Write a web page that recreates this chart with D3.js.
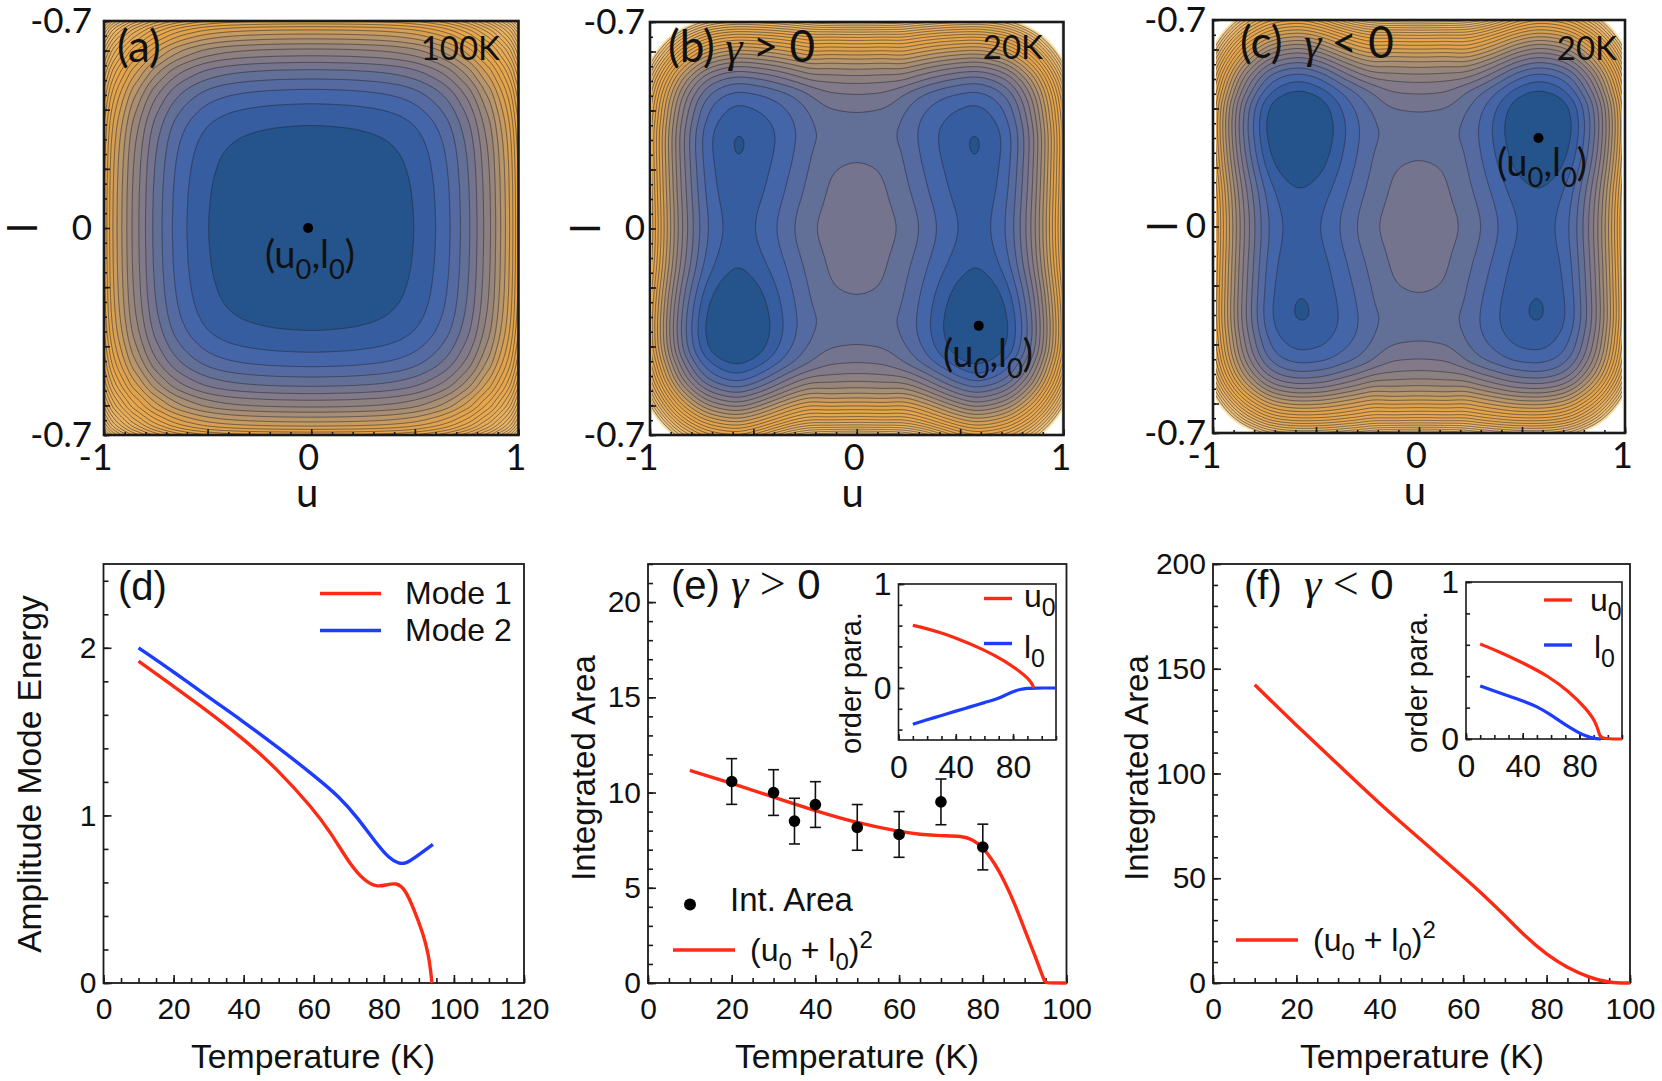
<!DOCTYPE html>
<html lang="en">
<head>
<meta charset="UTF-8">
<title>Amplitude modes</title>
<style>
  html, body { margin: 0; background: #fff; }
  svg { display: block; }
  .frame { fill: none; stroke: #1a1a1a; }
  .axis path { display: none; }
  .axis line { stroke: #1a1a1a; stroke-width: 1.6; }
  .sans text, text.sans { font-family: "Liberation Sans", sans-serif; fill: #111; }
  .lato text, text.lato { font-family: Lato, sans-serif; fill: #111; }
</style>
</head>
<body>
<div id="chart"></div>
<script src="https://cdnjs.cloudflare.com/ajax/libs/d3/7.8.5/d3.min.js"></script>
<script>
// ---- contour maps: levels read by counting contour lines along cuts through each map
// (a) same level profile along u and along l/0.7
const aCut = [0, .15, .3, .395, .495, .6, .67, .72, .765, .8, .832, .865, .89, .914, .937, .957, .973, .986, 1];
const aLevel = [0, .06, .25, .5, 1, 2, 3, 4, 5, 6, 7, 8, 9, 10, 11, 12, 13, 14, 15];

// (b) cut along l = 0, then cuts along u = 0, u = 0.25 and through the wells
const bRowU = [0, .1, .2, .3, .386, .49, .575, .65, .72, .763, .79, .82, .845, .865, .884, .9, .92, .932, .947, .96, .976, .99, 1];
const bRowLevel = [5.35, 5.25, 5, 4, 3, 2, 1.55, 2, 3, 4, 5, 6, 7, 8, 9, 10, 11, 12, 13, 14, 15, 16, 17];
const bMidL = [0, .12, .23, .31, .39, .456, .493, .52, .54, .56, .578, .588, .6, .615, .628, .638, .649, .659, .669, .676, .682, .689, .695, .7];
const bMidLevel = [0, -.09, -.35, -.9, -.4, .65, 1.65, 2.65, 3.65, 4.65, 5.65, 6.65, 7.65, 8.65, 9.65, 10.65, 11.65, 12.65, 13.65, 14.65, 15.65, 16.65, 17.65, 18.65];
const shoulderL = [0, .143, .25, .32, .38, .413, .467, .487, .51, .53, .547, .563, .578, .59, .603, .618, .63, .642, .652, .662, .672, .68, .687, .694, .7];
const shoulderLevel = [0, -.55, -.95, -1.1, -.9, -.55, .45, 1.45, 2.45, 3.45, 4.45, 5.45, 6.45, 7.45, 8.45, 9.45, 10.45, 11.45, 12.45, 13.45, 14.45, 15.45, 16.45, 17.45, 18.45];
const bWellL = [-.7, -.69, -.68, -.668, -.657, -.645, -.632, -.62, -.605, -.59, -.575, -.557, -.54, -.52, -.495, -.461, -.41, -.34, -.27, -.2, -.128, -.05, 0, .05, .1, .2, .29, .33, .38, .422, .464, .494, .515, .535, .55, .565, .58, .592, .605, .617, .628, .64, .65, .66, .669, .677, .685, .692, .7];
const bWellLevel = [14.45, 13.45, 12.45, 11.45, 10.45, 9.45, 8.45, 7.45, 6.45, 5.45, 4.45, 3.45, 2.45, 1.45, .45, -.55, -1.9, -2.3, -2, -1.35, -.55, -.1, 0, -.05, -.2, -.47, -.66, -.55, -.05, .45, 1.45, 2.45, 3.45, 4.45, 5.45, 6.45, 7.45, 8.45, 9.45, 10.45, 11.45, 12.45, 13.45, 14.45, 15.45, 16.45, 17.45, 18.45, 19.45];

// (c) same cuts, deep wells on top
const cRowU = [0, .1, .2, .3, .385, .475, .578, .665, .73, .77, .795, .825, .85, .87, .888, .905, .922, .936, .95, .963, .978, .99, 1];
const cRowLevel = [5.35, 5.25, 5, 4, 3, 2, 1.55, 2, 3, 4, 5, 6, 7, 8, 9, 10, 11, 12, 13, 14, 15, 16, 17];
const cMidL = [0, .12, .23, .31, .385, .45, .49, .518, .54, .56, .578, .588, .6, .615, .628, .638, .649, .659, .669, .676, .682, .689, .695, .7];
const cMidLevel = [0, -.09, -.35, -.9, -.4, .65, 1.65, 2.65, 3.65, 4.65, 5.65, 6.65, 7.65, 8.65, 9.65, 10.65, 11.65, 12.65, 13.65, 14.65, 15.65, 16.65, 17.65, 18.65];
const cWellL = [-.7, -.692, -.685, -.677, -.669, -.66, -.65, -.64, -.628, -.617, -.605, -.592, -.58, -.565, -.55, -.535, -.515, -.494, -.464, -.422, -.38, -.33, -.29, -.2, -.1, -.05, 0, .05, .127, .2, .27, .34, .41, .46, .495, .52, .54, .557, .575, .59, .605, .62, .632, .645, .657, .668, .68, .69, .7];
const cWellLevel = [19.45, 18.45, 17.45, 16.45, 15.45, 14.45, 13.45, 12.45, 11.45, 10.45, 9.45, 8.45, 7.45, 6.45, 5.45, 4.45, 3.45, 2.45, 1.45, .45, -.05, -.55, -.66, -.47, -.2, -.05, 0, -.1, -.55, -1.35, -2, -2.3, -1.9, -.55, .45, 1.45, 2.45, 3.45, 4.45, 5.45, 6.45, 7.45, 8.45, 9.45, 10.45, 11.45, 12.45, 13.45, 14.45];

// colours of the bands between contours
const bandStops = [0, 1, 2, 3, 4, 5, 6, 8, 10, 12, 14];
const bandColors = ['#24548b', '#365d9f', '#4565a9', '#566aa2', '#627098', '#75748e', '#827a88', '#98867a', '#b8966b', '#d8a052', '#e6a54a'];

// minima marked (u, l)
const minimaU = [-.015, .59, .58];
const minimaL = [0, -.33, .3];

// ---- line plots
// (d)
const dT1 = [10, 20, 29.9, 39.8, 49.7, 59.8, 65, 70, 74.6, 78, 80.5, 83.5, 86, 88.6, 91.2, 92.7, 93.4, 93.7];
const dMode1 = [1.92, 1.77, 1.62, 1.459, 1.274, 1.04, .893, .718, .605, .574, .584, .599, .564, .44, .296, .173, .07, 0];
const dT2 = [10, 20, 29.9, 39.8, 49.7, 59.8, 67.4, 72.5, 77.6, 81.7, 84.3, 86.3, 88.9, 94];
const dMode2 = [2, 1.857, 1.706, 1.562, 1.407, 1.243, 1.11, .986, .84, .739, .712, .712, .749, .827];

// (e)
const eT = [10, 20, 30, 40, 50, 60, 65, 70, 75, 77.5, 80, 83, 85, 87.5, 90, 92.5, 94.8, 95, 100];
const eArea = [11.16, 10.49, 9.76, 9.04, 8.4, 7.95, 7.8, 7.73, 7.72, 7.54, 7.14, 6.23, 5.42, 4.24, 2.79, 1.43, .04, 0, 0];
const ePointT = [20, 30, 35, 40, 50, 60, 70, 80];
const ePointArea = [10.58, 10, 8.5, 9.37, 8.17, 7.8, 9.51, 7.14];
const ePointErr = [1.2, 1.2, 1.2, 1.2, 1.2, 1.2, 1.2, 1.2];
const eInsetT1 = [10, 20, 30, 40, 59.4, 73.8, 85.7, 90.5, 93.4, 94.4];
const eInsetU = [.603, .57, .53, .482, .371, .265, .149, .093, .04, 0];
const eInsetT2 = [10, 20, 30, 40, 50, 60, 70, 75, 80, 85, 90, 95, 110];
const eInsetL = [-.348, -.305, -.265, -.222, -.182, -.14, -.1, -.066, -.033, -.013, -.003, 0, 0];

// (f)
const fT = [10, 20, 30, 40, 50, 60, 65, 70, 75, 80, 85, 90, 95, 100];
const fArea = [142.4, 122.9, 104.3, 85.4, 68.1, 50.8, 41.8, 32.2, 22, 13.5, 7.2, 2.8, 0, 0];
const fInsetT1 = [10, 23.7, 40.8, 58, 72.6, 84.8, 91, 93.9, 94.6, 110];
const fInsetU = [.605, .555, .482, .401, .303, .193, .116, .039, 0, 0];
const fInsetT2 = [10, 20, 30, 40, 50, 60, 70, 80, 85, 90, 95];
const fInsetL = [.338, .305, .274, .243, .208, .153, .09, .037, .018, .004, 0];

const RED = '#ff2a14';
const BLUE = '#1c3cff';
const W = 1662, H = 1081;

const svg = d3.select('#chart').append('svg').attr('width', W).attr('height', H);
const defs = svg.append('defs');

// monotone cubic through the cut readings, straight line past the ends
function cutProfile(xs, ys) {
  const n = xs.length;
  const d = d3.range(n - 1).map(i => (ys[i + 1] - ys[i]) / (xs[i + 1] - xs[i]));
  const m = d3.range(n).map(i => {
    if (i === 0) return xs[0] === 0 ? 0 : d[0]; // cuts from the centre are flat there
    if (i === n - 1) return d[n - 2];
    if (d[i - 1] * d[i] <= 0) return 0;
    const h0 = xs[i] - xs[i - 1], h1 = xs[i + 1] - xs[i];
    return (h0 + h1) * 3 / ((2 * h1 + h0) / d[i - 1] + (h1 + 2 * h0) / d[i]);
  });
  return x => {
    if (x <= xs[0]) return ys[0] + m[0] * (x - xs[0]);
    if (x >= xs[n - 1]) return ys[n - 1] + m[n - 1] * (x - xs[n - 1]);
    const i = Math.max(0, d3.bisectRight(xs, x) - 1);
    const h = xs[i + 1] - xs[i], t = (x - xs[i]) / h;
    const t2 = t * t, t3 = t2 * t;
    return (2 * t3 - 3 * t2 + 1) * ys[i] + (t3 - 2 * t2 + t) * h * m[i] +
      (-2 * t3 + 3 * t2) * ys[i + 1] + (t3 - t2) * h * m[i + 1];
  };
}

function drawAxis(g, scale, side, major, minor, opt) {
  const make = side === 'left' ? d3.axisLeft : d3.axisBottom;
  g.append('g').attr('class', 'axis')
    .call(make(scale).tickValues(minor).tickSizeOuter(0).tickSizeInner(-opt.minorLen).tickFormat(''));
  if (opt.mid) {
    g.append('g').attr('class', 'axis')
      .call(make(scale).tickValues(opt.mid).tickSizeOuter(0).tickSizeInner(-opt.majorLen).tickFormat(''));
  }
  const ax = g.append('g').attr('class', 'axis')
    .call(make(scale).tickValues(major).tickSizeOuter(0).tickSizeInner(-opt.majorLen)
      .tickPadding(opt.pad).tickFormat((d, i) => opt.labels[i]));
  ax.selectAll('text').attr('font-size', opt.size)
    .attr('dx', (d, i) => opt.dx ? opt.dx[i] : 0);
  ax.selectAll('.tick text').attr('fill', '#111');
  ax.select('.domain').remove();
}

// text with subscripts and superscripts: parts are [string, 'sub'|'sup'|style, size]
function rich(x, y, parts, cls, size, extra) {
  const t = svg.append('text').attr('class', cls).attr('x', x).attr('y', y).attr('font-size', size);
  if (extra) extra(t);
  let shift = 0;
  parts.forEach(p => {
    const s = t.append('tspan').text(p[0]);
    const want = p[1] === 'sub' ? .28 * size : p[1] === 'sup' ? -.42 * size : 0;
    s.attr('dy', want - shift);
    shift = want;
    if (p[1] === 'sub' || p[1] === 'sup') s.attr('font-size', size * .72);
    if (p[1] === 'gamma') s.attr('font-family', '"Liberation Serif", serif').attr('font-style', 'italic');
    if (p[1] === 'serif') s.attr('font-family', '"Liberation Serif", serif');
    if (p[2]) s.attr('font-size', p[2]);
  });
  return t;
}

function contourPanel(p) {
  const x = d3.scaleLinear().domain([-1, 1]).range([p.x0, p.x1]);
  const y = d3.scaleLinear().domain([-.7, .7]).range([p.y0, p.y1]);
  // grid runs a little past the frame so the outer ring stays clipped away
  const nx = Math.round(p.x1 - p.x0) + 16, ny = Math.round(p.y0 - p.y1) + 16;
  const gridU = d3.scaleLinear().domain([.5, nx - .5]).range([x.invert(p.x0 - 8), x.invert(p.x1 + 8)]);
  const gridL = d3.scaleLinear().domain([.5, ny - .5]).range([y.invert(p.y0 + 8), y.invert(p.y1 - 8)]);

  const values = new Float64Array(nx * ny);
  const cols = d3.range(nx).map(i => gridU(i + .5));
  const rows = d3.range(ny).map(j => gridL(j + .5));
  const colVals = cols.map(u => p.rowF(Math.abs(u)));
  const ease = t => t * t * (3 - 2 * t);
  rows.forEach((l, j) => {
    const mid = p.midF(Math.abs(l));
    const sh = p.shoulderF ? p.shoulderF(Math.abs(l)) : 0;
    const well = p.wellF ? p.wellF(l) : 0;
    cols.forEach((u, i) => {
      const au = Math.abs(u);
      let h = mid;
      if (p.wellF) {
        if (au < .25) { const s = ease(Math.max(0, (au - .12) / .13)); h = (1 - s) * mid + s * sh; }
        else { const s = ease(Math.min(1, (au - .25) / .35)); h = (1 - s) * sh + s * well; }
      }
      values[i + j * nx] = colVals[i] + h;
    });
  });
  // rounds the kinks left where the cuts are joined
  if (p.soften) d3.blur2({ data: values, width: nx, height: ny }, p.soften);

  const color = d3.scaleLinear()
    .domain(bandStops.concat([17, p.top - 2, p.top]))
    .range(bandColors.concat(['#e6aa55', '#edc27e', '#fdeebb']));

  const id = 'clip' + p.name;
  defs.append('clipPath').attr('id', id).append('rect')
    .attr('x', p.x0 + p.inset).attr('y', p.y1 + 1).attr('width', p.x1 - p.x0 - 2 * p.inset).attr('height', p.y0 - p.y1 - 2);

  const path = d3.geoPath(d3.geoTransform({
    point(a, b) { this.stream.point(x(gridU(a)), y(gridL(b))); }
  }));
  const levels = d3.range(1, p.top + 1);
  const g = svg.append('g').attr('clip-path', `url(#${id})`);
  g.append('rect').attr('x', p.x0).attr('y', p.y1).attr('width', p.x1 - p.x0).attr('height', p.y0 - p.y1)
    .attr('fill', color(0));
  g.selectAll('path')
    .data(d3.contours().size([nx, ny]).thresholds(levels)(Array.from(values)))
    .enter().append('path')
    .attr('d', path)
    .attr('fill', d => d.value === p.top && p.whiteOutside ? '#fff' : color(d.value))
    .attr('stroke', d => d.value === p.top && p.whiteOutside ? '#fdeebb' : '#26262e')
    .attr('stroke-opacity', d => d.value === p.top && p.whiteOutside ? 1 : .56)
    .attr('stroke-width', 1);

  svg.append('rect').attr('class', 'frame').attr('x', p.x0).attr('y', p.y1)
    .attr('width', p.x1 - p.x0).attr('height', p.y0 - p.y1).attr('stroke-width', 2.6);

  const axes = svg.append('g').attr('class', 'lato');
  drawAxis(axes.append('g').attr('transform', `translate(0,${p.y0})`), x, 'bottom',
    [-1, 0, 1], d3.range(-10, 11).map(d => d / 10),
    { minorLen: 3, majorLen: 6, mid: [-.5, .5], pad: 9, labels: ['-1', '0', '1'], size: 36, dx: [-9, -3, -3] });
  drawAxis(axes.append('g').attr('transform', `translate(${p.x0},0)`), y, 'left',
    [-.7, 0, .7], d3.range(-14, 15).map(d => d / 20),
    { minorLen: 3, majorLen: 6, mid: [-.6, -.4, -.2, .2, .4, .6], pad: p.yPad, labels: ['-0.7', '0', '-0.7'], size: 35 });

  svg.append('circle').attr('cx', x(p.dotU)).attr('cy', y(p.dotL)).attr('r', 5).attr('fill', '#000');

  rich((p.x0 + p.x1) / 2 - 4, p.y0 + 72, [['u']], 'lato', 40, t => t.attr('text-anchor', 'middle'));
  const midY = (p.y0 + p.y1) / 2;
  rich(p.lx, midY, [['l']], 'lato', 40, t => t
    .attr('text-anchor', 'middle')
    .attr('transform', `rotate(-90 ${p.lx} ${midY})`));
  rich(p.oLabelX, p.oLabelY, [['(u'], ['0', 'sub'], [',l'], ['0', 'sub'], [')']], 'lato', 38);
}

function linePanel(p) {
  const x = d3.scaleLinear().domain(p.xDomain).range([p.x0, p.x1]);
  const y = d3.scaleLinear().domain(p.yDomain).range([p.y0, p.y1]);
  const g = svg.append('g').attr('class', 'sans');
  g.append('rect').attr('class', 'frame').attr('x', p.x0).attr('y', p.y1)
    .attr('width', p.x1 - p.x0).attr('height', p.y0 - p.y1).attr('stroke-width', p.frameW);
  drawAxis(g.append('g').attr('transform', `translate(0,${p.y0})`), x, 'bottom',
    p.xMajor, p.xMinor, { minorLen: p.minorLen, majorLen: p.majorLen, pad: p.xPad, labels: p.xMajor.map(String), size: p.tickSize });
  drawAxis(g.append('g').attr('transform', `translate(${p.x0},0)`), y, 'left',
    p.yMajor, p.yMinor, { minorLen: p.minorLen, majorLen: p.majorLen, pad: p.yPad, labels: p.yMajor.map(String), size: p.tickSize });
  const line = d3.line().x(d => x(d[0])).y(d => y(d[1])).curve(d3.curveBasis);
  p.series.forEach(s => {
    g.append('path').attr('d', line(d3.zip(s.t, s.v))).attr('fill', 'none')
      .attr('stroke', s.color).attr('stroke-width', p.lineW).attr('stroke-linecap', 'butt');
  });
  return { g, x, y };
}

function legendLine(x0, x1, y, color) {
  svg.append('line').attr('x1', x0).attr('x2', x1).attr('y1', y).attr('y2', y)
    .attr('stroke', color).attr('stroke-width', 3.4);
}

function yTitle(x, y, label, size) {
  rich(x, y, [[label]], 'sans', size, t => t.attr('text-anchor', 'middle').attr('transform', `rotate(-90 ${x} ${y})`));
}

// ---- top row
contourPanel({
  name: 'a', x0: 104, x1: 518.5, y0: 435, y1: 21, top: 31, inset: 0, whiteOutside: false,
  rowF: cutProfile(aCut, aLevel), midF: l => cutProfile(aCut, aLevel)(l / .7),
  yPad: 12, lx: 37, dotU: minimaU[0], dotL: minimaL[0], oLabelX: 265, oLabelY: 268
});
contourPanel({
  name: 'b', x0: 650, x1: 1063.5, y0: 435, y1: 22, top: 24, inset: 2, whiteOutside: true, soften: 5,
  rowF: cutProfile(bRowU, bRowLevel), midF: cutProfile(bMidL, bMidLevel),
  shoulderF: cutProfile(shoulderL, shoulderLevel), wellF: cutProfile(bWellL, bWellLevel),
  yPad: 5, lx: 600, dotU: minimaU[1], dotL: minimaL[1], oLabelX: 943, oLabelY: 367
});
contourPanel({
  name: 'c', x0: 1213, x1: 1625, y0: 433, y1: 20, top: 24, inset: 3, whiteOutside: true, soften: 5,
  rowF: cutProfile(cRowU, cRowLevel), midF: cutProfile(cMidL, cMidLevel),
  shoulderF: cutProfile(shoulderL, shoulderLevel), wellF: cutProfile(cWellL, cWellLevel),
  yPad: 7, lx: 1177, dotU: minimaU[2], dotL: minimaL[2], oLabelX: 1497, oLabelY: 176
});

rich(117, 62, [['(a)', '', 44]], 'lato', 36);
rich(500, 60, [['100K']], 'lato', 33, t => t.attr('text-anchor', 'end'));
rich(668, 62, [['(b)', '', 44], ['\u00a0\u00a0', '', 20], ['γ', 'gamma', 44], ['\u00a0\u00a0', '', 20], ['>\u00a00', '', 44]], 'lato', 36);
rich(1043, 59, [['20K']], 'lato', 33, t => t.attr('text-anchor', 'end'));
rich(1240, 58, [['(c)', '', 44], ['\u00a0\u00a0\u00a0', '', 28], ['γ', 'gamma', 44], ['\u00a0\u00a0', '', 20], ['<\u00a00', '', 44]], 'lato', 36);
rich(1617, 60, [['20K']], 'lato', 33, t => t.attr('text-anchor', 'end'));

// ---- bottom row
const lineBase = {
  y0: 983, y1: 564, frameW: 1.8, lineW: 3.4, minorLen: 5, majorLen: 8,
  tickSize: 30, xPad: 15, yPad: 7
};

linePanel(Object.assign({}, lineBase, {
  x0: 103.5, x1: 524, xDomain: [0, 120], yDomain: [0, 2.5],
  xMajor: d3.range(0, 121, 20), xMinor: d3.range(0, 121, 5),
  yMajor: [0, 1, 2], yMinor: d3.range(0, 13).map(d => d * .2),
  series: [{ t: dT1, v: dMode1, color: RED }, { t: dT2, v: dMode2, color: BLUE }]
}));
yTitle(41, 774, 'Amplitude Mode Energy', 33.5);
rich(313, 1068, [['Temperature (K)']], 'sans', 33.8, t => t.attr('text-anchor', 'middle'));
rich(118, 600, [['(d)']], 'sans', 40);
legendLine(320, 381, 593.5, RED);
legendLine(320, 381, 630.5, BLUE);
rich(405, 604, [['Mode 1']], 'sans', 32);
rich(405, 641, [['Mode 2']], 'sans', 32);

const e = linePanel(Object.assign({}, lineBase, {
  x0: 648, x1: 1066.5, xDomain: [0, 100], yDomain: [0, 22],
  xMajor: d3.range(0, 101, 20), xMinor: d3.range(0, 101, 5),
  yMajor: d3.range(0, 21, 5), yMinor: d3.range(0, 23),
  series: [{ t: eT, v: eArea, color: RED }]
}));
const ePts = d3.zip(ePointT, ePointArea, ePointErr);
e.g.selectAll('g.dots').data(ePts).enter().append('g').attr('class', 'dots').each(function (d) {
  const px = e.x(d[0]), lo = e.y(d[1] - d[2]), hi = e.y(d[1] + d[2]);
  const s = d3.select(this);
  s.append('line').attr('x1', px).attr('x2', px).attr('y1', lo).attr('y2', hi);
  [lo, hi].forEach(c => s.append('line').attr('x1', px - 5.5).attr('x2', px + 5.5).attr('y1', c).attr('y2', c));
  s.selectAll('line').attr('stroke', '#111').attr('stroke-width', 1.6);
  s.append('circle').attr('cx', px).attr('cy', e.y(d[1])).attr('r', 5.8).attr('fill', '#000');
});
yTitle(595, 768, 'Integrated Area', 33);
rich(857, 1068, [['Temperature (K)']], 'sans', 33.8, t => t.attr('text-anchor', 'middle'));
rich(671, 599, [['(e)\u00a0', '', 40], ['γ', 'gamma', 44], ['\u00a0>\u00a0', 'serif', 46], ['0', '', 42]], 'sans', 38);
svg.append('circle').attr('cx', 690).attr('cy', 904.5).attr('r', 6).attr('fill', '#000');
rich(730, 911, [['Int. Area']], 'sans', 33);
legendLine(673, 735, 950, RED);
rich(750, 961, [['(u'], ['0', 'sub', 24], [' + l'], ['0', 'sub', 24], [')'], ['2', 'sup', 24]], 'sans', 32);

const insetBase = {
  y0: 740, y1: 584, frameW: 1.6, lineW: 3.2, minorLen: 4, majorLen: 6,
  tickSize: 32, xPad: 15, yPad: 7
};
linePanel(Object.assign({}, insetBase, {
  x0: 898.5, x1: 1056, xDomain: [0, 110], yDomain: [-.5, 1],
  xMajor: [0, 40, 80], xMinor: d3.range(0, 111, 10),
  yMajor: [0, 1], yMinor: d3.range(-2, 6).map(d => d * .2),
  series: [{ t: eInsetT2, v: eInsetL, color: BLUE }, { t: eInsetT1, v: eInsetU, color: RED }]
}));
yTitle(861, 683, 'order para.', 29);
legendLine(984, 1012, 598.5, RED);
legendLine(984, 1012, 643.5, BLUE);
rich(1024, 607, [['u', '', 32], ['0', 'sub', 25]], 'sans', 32);
rich(1024, 658, [['l', '', 32], ['0', 'sub', 25]], 'sans', 32);

linePanel(Object.assign({}, lineBase, {
  x0: 1213, x1: 1630, xDomain: [0, 100], yDomain: [0, 200],
  xMajor: d3.range(0, 101, 20), xMinor: d3.range(0, 101, 5),
  yMajor: d3.range(0, 201, 50), yMinor: d3.range(0, 201, 10),
  series: [{ t: fT, v: fArea, color: RED }]
}));
yTitle(1148, 768, 'Integrated Area', 33);
rich(1422, 1068, [['Temperature (K)']], 'sans', 33.8, t => t.attr('text-anchor', 'middle'));
rich(1244, 599, [['(f)\u00a0\u00a0', '', 40], ['γ', 'gamma', 44], ['\u00a0<\u00a0', 'serif', 46], ['0', '', 42]], 'sans', 38);
legendLine(1236, 1298, 940, RED);
rich(1313, 951, [['(u'], ['0', 'sub', 24], [' + l'], ['0', 'sub', 24], [')'], ['2', 'sup', 24]], 'sans', 32);

linePanel(Object.assign({}, insetBase, {
  x0: 1466, x1: 1622, y0: 739, y1: 582, xDomain: [0, 110], yDomain: [0, 1],
  xMajor: [0, 40, 80], xMinor: d3.range(0, 111, 10),
  yMajor: [0, 1], yMinor: d3.range(0, 6).map(d => d * .2),
  series: [{ t: fInsetT2, v: fInsetL, color: BLUE }, { t: fInsetT1, v: fInsetU, color: RED }]
}));
yTitle(1427, 682, 'order para.', 29);
legendLine(1544, 1572, 600, RED);
legendLine(1544, 1572, 645, BLUE);
rich(1590, 611, [['u', '', 32], ['0', 'sub', 25]], 'sans', 32);
rich(1594, 658, [['l', '', 32], ['0', 'sub', 25]], 'sans', 32);
</script>
</body>
</html>
